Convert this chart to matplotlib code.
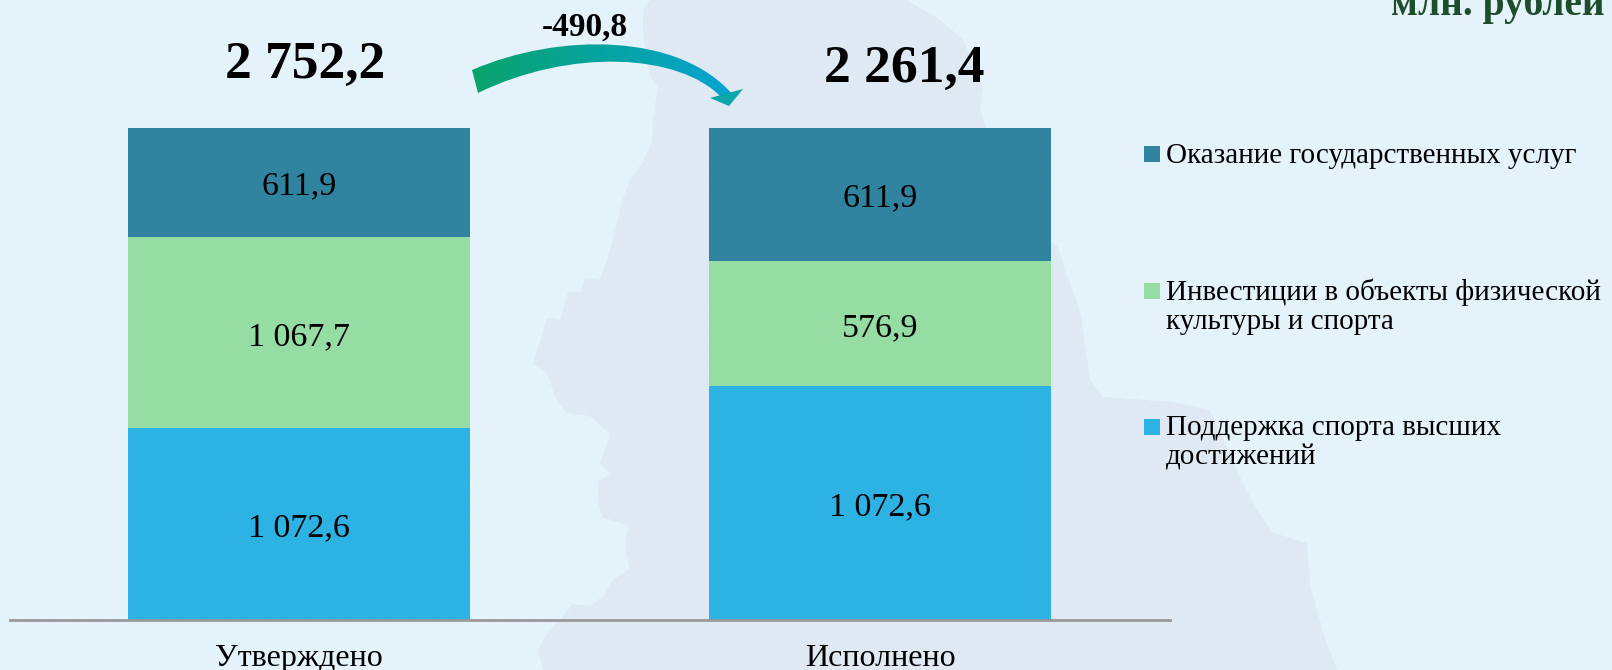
import numpy as np
import matplotlib.pyplot as plt
from matplotlib.colors import LinearSegmentedColormap
from matplotlib.patches import PathPatch, Polygon
from matplotlib.path import Path

plt.rcParams["font.family"] = ["Liberation Serif", "DejaVu Serif"]

categories = ["Утверждено", "Исполнено"]
sport_vals = [1072.6, 1072.6]
invest_vals = [1067.7, 576.9]
services_vals = [611.9, 611.9]
totals = [2752.2, 2261.4]
diff_label = "-490,8"
unit_label = "млн. рублей"

sport_name = "Поддержка спорта высших\nдостижений"
invest_name = "Инвестиции в объекты физической\nкультуры и спорта"
services_name = "Оказание государственных услуг"

SPORT_COLOR = "#2DB2E4"
INVEST_COLOR = "#96DDA3"
SERVICES_COLOR = "#31849F"

W, H = 1612, 670


def fmt(v):
    return f"{v:,.1f}".replace(",", " ").replace(".", ",")


# background map shape, in pixels
map_outline = [
    (650, 0), (643, 10), (643, 33), (650, 77), (658, 87), (653, 120), (652, 141),
    (642, 164), (630, 180), (622, 201), (617, 222), (610, 250), (600, 280),
    (585, 278), (580, 292), (568, 292), (560, 320), (547, 318), (533, 364),
    (547, 373), (557, 401), (567, 413), (590, 416), (610, 434), (600, 464),
    (610, 473), (598, 482), (598, 503), (603, 518), (628, 525), (625, 548),
    (630, 569), (613, 580), (603, 597), (590, 606), (573, 604), (560, 620),
    (547, 634), (538, 650), (543, 670), (1337, 670), (1323, 633), (1310, 583),
    (1307, 543), (1273, 533), (1257, 510), (1240, 477), (1227, 447), (1210, 410),
    (1173, 402), (1103, 397), (1090, 380), (1080, 310), (1065, 270), (1058, 247),
    (1040, 235), (1000, 160), (987, 130), (980, 110), (983, 87), (963, 40),
    (940, 20), (907, 0),
]

fig = plt.figure(figsize=(W / 100, H / 100), dpi=100, facecolor="#E4F3FB")

bg = fig.add_axes([0, 0, 1, 1], zorder=0)
bg.axis("off")
bg.add_patch(Polygon(map_outline, closed=True, facecolor="#DEE9F4", edgecolor="none"))
for start in np.arange(-700, W + 100, 13):
    bg.plot([start, start + 800], [H, H - 950], color="white", lw=2.5, alpha=0.07)
bg.set_xlim(0, W)
bg.set_ylim(H, 0)

ax = fig.add_axes([10 / W, (H - 620) / H, 1160 / W, 492.5 / H], zorder=1)
ax.patch.set_alpha(0)

x = np.arange(len(categories))
tot = np.array(totals)
bottom = np.zeros(len(categories))
for vals, color in [
    (sport_vals, SPORT_COLOR),
    (invest_vals, INVEST_COLOR),
    (services_vals, SERVICES_COLOR),
]:
    shares = np.array(vals) / tot
    bars = ax.bar(x, shares, 0.588, bottom=bottom, color=color)
    labels = ax.bar_label(bars, labels=[fmt(v) for v in vals], label_type="center", fontsize=24.5, color="black")
    for label in labels:
        label.set_y(-3)
    bottom += shares

ax.set_xlim(-0.497, 1.499)
ax.set_ylim(0, 1)
ax.set_yticks([])
ax.set_xticks(x, categories, fontsize=23)
ax.tick_params(axis="x", length=0, pad=17)
for side in ["top", "left", "right"]:
    ax.spines[side].set_visible(False)
ax.spines["bottom"].set_color("#9A9A9A")
ax.spines["bottom"].set_linewidth(2)

fg = fig.add_axes([0, 0, 1, 1], zorder=2)
fg.patch.set_alpha(0)
fg.axis("off")

# curved arrow with a green to blue gradient
arrow_cmap = LinearSegmentedColormap.from_list("arrow", ["#0BA36B", "#05A3A0", "#06A3D2"])
codes = [Path.MOVETO, Path.CURVE4, Path.CURVE4, Path.CURVE4, Path.LINETO,
         Path.CURVE4, Path.CURVE4, Path.CURVE4, Path.CLOSEPOLY]
body = Path(
    [(472, 70), (560, 32), (680, 33), (733, 95), (722, 98),
     (680, 53), (570, 48), (478, 93), (472, 70)],
    codes,
)
im = fg.imshow(
    np.linspace(0, 1, 256).reshape(1, -1),
    extent=(470, 735, 100, 30),
    cmap=arrow_cmap,
    aspect="auto",
)
patch = PathPatch(body, facecolor="none", edgecolor="none")
fg.add_patch(patch)
im.set_clip_path(patch)
fg.add_patch(Polygon([(710, 98), (743, 89), (729, 106)], closed=True, facecolor="#0AA6A8", edgecolor="none"))

fg.text(585, 27, diff_label, ha="center", va="center", fontsize=24, fontweight="bold")
fg.text(305, 65, fmt(totals[0]), ha="center", va="center", fontsize=38.5, fontweight="bold")
fg.text(904, 69, fmt(totals[1]), ha="center", va="center", fontsize=38.5, fontweight="bold")
fg.text(1605, 15, unit_label, ha="right", va="baseline", fontsize=28.5, fontweight="bold", color="#1E4D2B")

legend_items = [
    (154, services_name, SERVICES_COLOR),
    (291, invest_name, INVEST_COLOR),
    (427, sport_name, SPORT_COLOR),
]
for (y, name, color), dy in zip(legend_items, [11, 13, 12]):
    fg.scatter([1152], [y], marker="s", s=130, color=color, linewidths=0)
    fg.text(1166, y - dy, name, ha="left", va="top", fontsize=21, linespacing=1.18)

fg.set_xlim(0, W)
fg.set_ylim(H, 0)

fig.savefig("out.png", dpi=100, facecolor=fig.get_facecolor())
